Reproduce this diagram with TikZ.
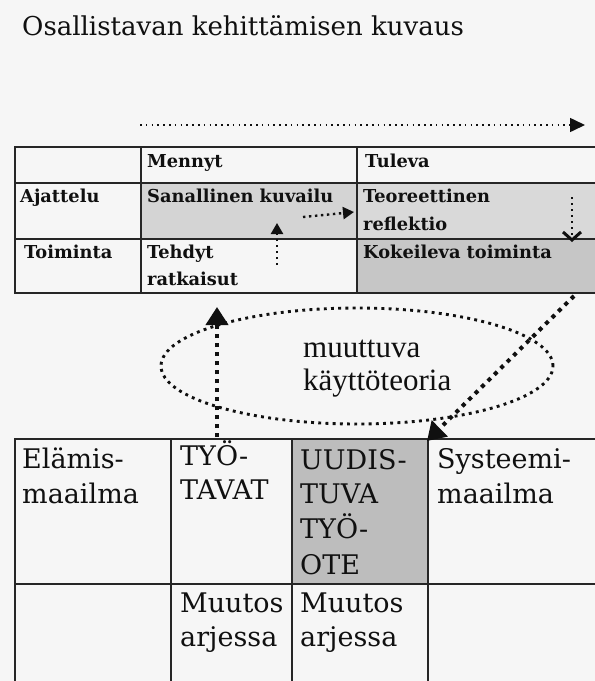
\documentclass[tikz,border=0pt]{standalone}
\usepackage{fontspec}
\setmainfont{DejaVu Serif}
\newfontfamily\tablebold{DejaVu Serif Bold}
\newfontfamily\thinserif{Liberation Serif}
\usetikzlibrary{arrows.meta,shapes.geometric}

\definecolor{paper}{HTML}{F6F6F6}
\definecolor{rule}{HTML}{262626}
\definecolor{ink}{HTML}{101010}
\definecolor{shadeA}{HTML}{D4D4D4}
\definecolor{shadeB}{HTML}{D9D9D9}
\definecolor{shadeC}{HTML}{C6C6C6}
\definecolor{shadeD}{HTML}{BDBDBD}

\begin{document}
\begin{tikzpicture}[x=1pt,y=-1pt,
  cellbox/.style={draw=rule, line width=1.6pt, rectangle, inner sep=0pt, anchor=north west},
  titletext/.style={font=\fontsize{26}{30}\selectfont, text=ink, inner sep=0pt, anchor=base west},
  smalltext/.style={font=\tablebold\fontsize{17.8}{20}\selectfont, text=ink, inner sep=0pt, anchor=base west},
  bigtext/.style={font=\fontsize{27}{35}\selectfont, text=ink, inner sep=0pt, anchor=base west},
  theorytext/.style={font=\thinserif\fontsize{31}{33}\selectfont, text=ink, inner sep=0pt, anchor=base west},
  timeflow/.style={draw=ink, line width=1.6pt, dash pattern=on 1.6pt off 4.2pt,
    -{Triangle[length=15pt,width=14pt]}},
  cellflow/.style={draw=ink, line width=2.4pt, dash pattern=on 2.4pt off 3.6pt,
    -{Triangle[length=11pt,width=12pt]}},
  cellflowdown/.style={draw=ink, line width=2.4pt, dash pattern=on 2.4pt off 3.6pt,
    -{Straight Barb[length=8pt,width=18pt,line width=3pt]}},
  bigflow/.style={draw=ink, line width=4pt, dash pattern=on 4pt off 5pt,
    -{Triangle[length=18pt,width=22pt]}},
  theoryloop/.style={draw=ink, line width=2.9pt, dash pattern=on 2.9pt off 4.3pt, ellipse, inner sep=0pt}]

\fill[paper] (0,0) rectangle (595,681);
\useasboundingbox (0,0) rectangle (595,681);
\clip (0,0) rectangle (595,681);

% title
\node[titletext] (title) at (22,35) {Osallistavan kehittämisen kuvaus};

% time axis
\coordinate (timeStart) at (140,125);
\coordinate (timeEnd) at (585,125);
\draw[timeflow] (timeStart) -- (timeEnd);

% upper table: past / future
\node[cellbox, minimum width=126pt, minimum height=36pt] (c00) at (14,146) {};
\node[cellbox, minimum width=216pt, minimum height=36pt] (c01) at (140,146) {};
\node[cellbox, minimum width=250pt, minimum height=36pt] (c02) at (356,146) {};
\node[cellbox, minimum width=126pt, minimum height=56pt] (c10) at (14,182) {};
\node[cellbox, fill=shadeA, minimum width=216pt, minimum height=56pt] (c11) at (140,182) {};
\node[cellbox, fill=shadeB, minimum width=250pt, minimum height=56pt] (c12) at (356,182) {};
\node[cellbox, minimum width=126pt, minimum height=54pt] (c20) at (14,238) {};
\node[cellbox, minimum width=216pt, minimum height=54pt] (c21) at (140,238) {};
\node[cellbox, fill=shadeC, minimum width=250pt, minimum height=54pt] (c22) at (356,238) {};

\node[smalltext] (tPast) at (147,167) {Mennyt};
\node[smalltext] (tFuture) at (365,167) {Tuleva};
\node[smalltext] (tThink) at (20,202) {Ajattelu};
\node[smalltext] (tVerbal) at (147,202) {Sanallinen kuvailu};
\node[smalltext] (tTheory1) at (363,202) {Teoreettinen};
\node[smalltext] (tTheory2) at (363,230) {reflektio};
\node[smalltext] (tAct) at (24,258) {Toiminta};
\node[smalltext] (tDone1) at (147,258) {Tehdyt};
\node[smalltext] (tDone2) at (147,285) {ratkaisut};
\node[smalltext] (tTry) at (363,258) {Kokeileva toiminta};

% movements inside the upper table
\coordinate (reflectFrom) at (303,217);
\coordinate (reflectTo) at (354,212);
\draw[cellflow] (reflectFrom) -- (reflectTo);
\coordinate (doneFrom) at (277,265);
\coordinate (doneTo) at (277,223);
\draw[cellflow] (doneFrom) -- (doneTo);
\coordinate (tryFrom) at (572,197);
\coordinate (tryTo) at (572,242);
\draw[cellflowdown] (tryFrom) -- (tryTo);

% theory in use
\node[theoryloop, minimum width=392pt, minimum height=116pt] (loop) at (357,366) {};
\node[theorytext] (th1) at (303,357) {muuttuva};
\node[theorytext] (th2) at (303,390) {käyttöteoria};

% lower table: lifeworld / system world
\node[cellbox, minimum width=156pt, minimum height=145pt] (d00) at (14,438) {};
\node[cellbox, minimum width=121pt, minimum height=145pt] (d01) at (170,438) {};
\node[cellbox, fill=shadeD, minimum width=136pt, minimum height=145pt] (d02) at (291,438) {};
\node[cellbox, minimum width=180pt, minimum height=145pt] (d03) at (427,438) {};
\node[cellbox, minimum width=156pt, minimum height=110pt] (d10) at (14,583) {};
\node[cellbox, minimum width=121pt, minimum height=110pt] (d11) at (170,583) {};
\node[cellbox, minimum width=136pt, minimum height=110pt] (d12) at (291,583) {};
\node[cellbox, minimum width=180pt, minimum height=110pt] (d13) at (427,583) {};

\node[bigtext] (life1) at (22,468) {Elämis-};
\node[bigtext] (life2) at (22,503) {maailma};
\node[bigtext] (ways1) at (180,465) {TYÖ-};
\node[bigtext] (ways2) at (180,499) {TAVAT};
\node[bigtext] (renew1) at (300,469) {UUDIS-};
\node[bigtext] (renew2) at (300,503) {TUVA};
\node[bigtext] (renew3) at (300,538) {TYÖ-};
\node[bigtext] (renew4) at (300,574) {OTE};
\node[bigtext] (sys1) at (437,468) {Systeemi-};
\node[bigtext] (sys2) at (437,503) {maailma};
\node[bigtext] (chg1) at (180,612) {Muutos};
\node[bigtext] (chg2) at (180,646) {arjessa};
\node[bigtext] (chg3) at (300,612) {Muutos};
\node[bigtext] (chg4) at (300,646) {arjessa};

% links between the tables
\coordinate (waysTop) at (217,437);
\coordinate (doneBottom) at (217,307);
\draw[bigflow] (waysTop) -- (doneBottom);
\coordinate (tryBottom) at (574,296);
\coordinate (sysCorner) at (427,441);
\draw[bigflow] (tryBottom) -- (sysCorner);
\end{tikzpicture}
\end{document}
